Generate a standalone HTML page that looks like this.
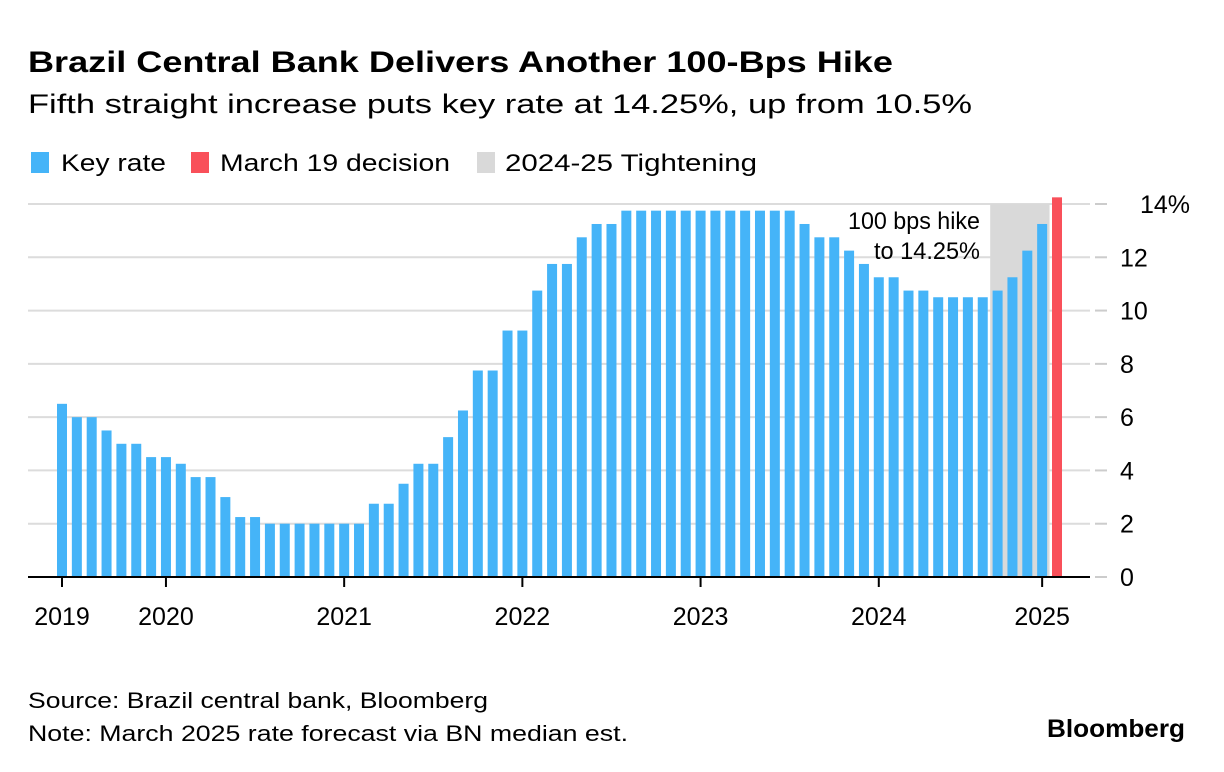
<!DOCTYPE html>
<html><head><meta charset="utf-8"><style>
html,body{margin:0;padding:0;background:#fff;}
svg{display:block;font-family:"Liberation Sans",sans-serif;}
</style></head><body>
<svg id="chart" width="1224" height="772" viewBox="0 0 1224 772">
<text x="28" y="72" font-size="30" font-weight="bold" textLength="865" lengthAdjust="spacingAndGlyphs" fill="#000">Brazil Central Bank Delivers Another 100-Bps Hike</text>
<text x="28" y="113" font-size="27" textLength="944" lengthAdjust="spacingAndGlyphs" fill="#000">Fifth straight increase puts key rate at 14.25%, up from 10.5%</text>
<g>
<rect x="31" y="152" width="18" height="21" fill="#45b4f8"/>
<text x="61" y="171" font-size="24" textLength="105" lengthAdjust="spacingAndGlyphs">Key rate</text>
<rect x="191" y="152" width="18" height="21" fill="#f9505a"/>
<text x="220" y="171" font-size="24" textLength="230" lengthAdjust="spacingAndGlyphs">March 19 decision</text>
<rect x="477" y="152" width="18" height="21" fill="#d9d9d9"/>
<text x="505" y="171" font-size="24" textLength="252" lengthAdjust="spacingAndGlyphs">2024-25 Tightening</text>
</g>
<g id="grid"></g>
<g id="shade"></g>
<g id="bars"></g>
<g id="axis"></g>
<text x="980" y="229" font-size="24" text-anchor="end" textLength="132" lengthAdjust="spacingAndGlyphs" fill="#000">100 bps hike</text>
<text x="980" y="259" font-size="24" text-anchor="end" textLength="106" lengthAdjust="spacingAndGlyphs" fill="#000">to 14.25%</text>
<text x="28" y="708" font-size="22" textLength="460" lengthAdjust="spacingAndGlyphs">Source: Brazil central bank, Bloomberg</text>
<text x="28" y="741" font-size="22" textLength="600" lengthAdjust="spacingAndGlyphs">Note: March 2025 rate forecast via BN median est.</text>
<text x="1185" y="737" font-size="25" font-weight="bold" text-anchor="end" textLength="138" lengthAdjust="spacingAndGlyphs">Bloomberg</text>
</svg>
<script>
const rates=[6.5,6,6,5.5,5,5,4.5,4.5,4.25,3.75,3.75,3,2.25,2.25,2,2,2,2,2,2,2,2.75,2.75,3.5,4.25,4.25,5.25,6.25,7.75,7.75,9.25,9.25,10.75,11.75,11.75,12.75,13.25,13.25,13.75,13.75,13.75,13.75,13.75,13.75,13.75,13.75,13.75,13.75,13.75,13.75,13.25,12.75,12.75,12.25,11.75,11.25,11.25,10.75,10.75,10.5,10.5,10.5,10.5,10.75,11.25,12.25,13.25,14.25];
const yTicks=[0,2,4,6,8,10,12,14];
const yearLabels=["2019","2020","2021","2022","2023","2024","2025"];
const yearIndex=[0,7,19,31,43,55,66];
const shadeStart=63, shadeEnd=66;
const NS="http://www.w3.org/2000/svg";
const x0=62, step=(1057-62)/67, bw=10;
const xs=i=>x0+i*step;
const ys=v=>577-v*(577-204)/14;
function mk(tag,attrs,parent){const e=document.createElementNS(NS,tag);for(const k in attrs)e.setAttribute(k,attrs[k]);document.getElementById(parent).appendChild(e);return e;}
yTicks.forEach(t=>{
  if(t>0){const l=mk('line',{x1:28,x2:1090,y1:ys(t),y2:ys(t),stroke:'#dcdcdc','stroke-width':2},'grid');
  
  }
  const tx=mk('text',{x:1120,y:ys(t)+9,'font-size':25,fill:'#000'},'grid');
  tx.textContent=t+(t===14?'%':'');
  if(t===14)tx.setAttribute('x',1140);
  
  
  const tk=mk('line',{x1:1095,x2:1107,y1:ys(t),y2:ys(t),stroke:'#ccc','stroke-width':2},'grid');
  
  
});
const sx1=(xs(shadeStart-1)+xs(shadeStart))/2, sx2=(xs(shadeEnd)+xs(shadeEnd+1))/2;
const sh=mk('rect',{x:sx1,y:ys(14),width:sx2-sx1,height:ys(0)-ys(14),fill:'#d9d9d9'},'shade');


rates.forEach((v,i)=>{
  const last=i===rates.length-1;
  const r=mk('rect',{x:xs(i)-bw/2,y:ys(v),width:bw,height:ys(0)-ys(v),fill:last?'#f9505a':'#45b4f8'},'bars');
  
  
});
const ax=mk('line',{x1:28,x2:1090,y1:577,y2:577,stroke:'#000','stroke-width':2},'axis');


yearLabels.forEach((y,k)=>{
  const x=xs(yearIndex[k]);
  const t=mk('line',{x1:x,x2:x,y1:577,y2:587,stroke:'#000','stroke-width':2},'axis');
  
  
  const tx=mk('text',{x:x,y:625,'font-size':25,'text-anchor':'middle'},'axis');
  tx.textContent=y;
  
  
});
</script>
</body></html>
